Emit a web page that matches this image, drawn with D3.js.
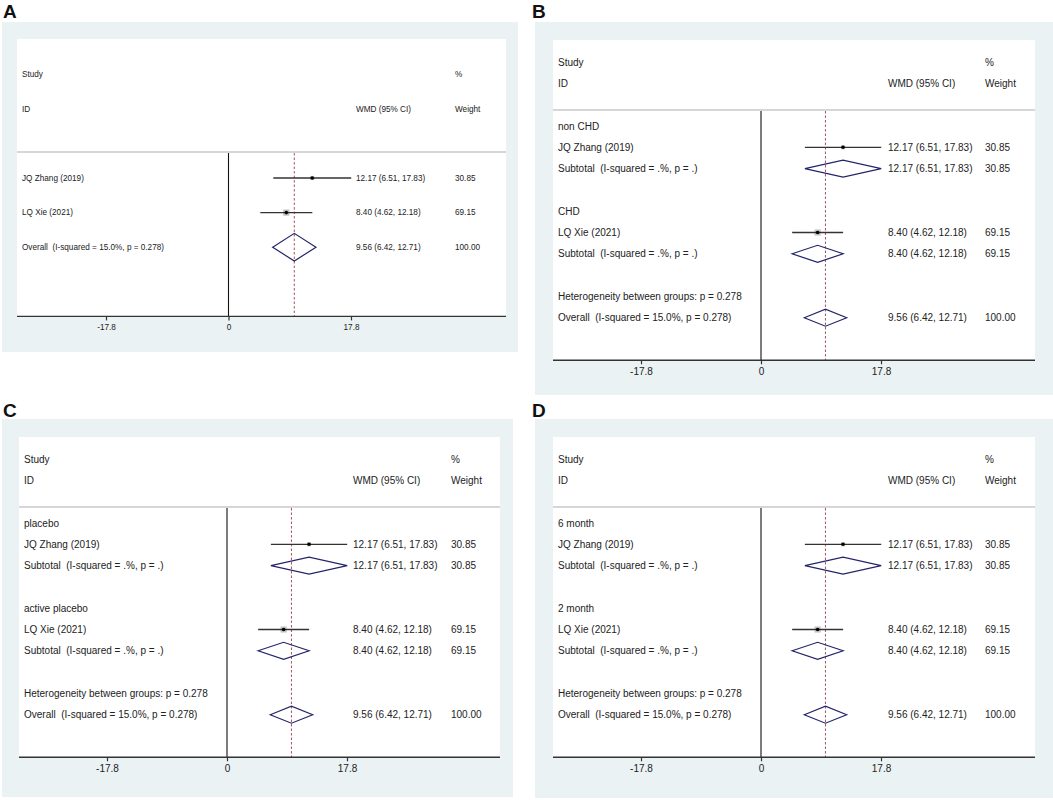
<!DOCTYPE html>
<html>
<head>
<meta charset="utf-8">
<script src="https://cdn.jsdelivr.net/npm/d3@7"></script>
<style>
  body { margin: 0; background: #fff; }
  svg { display: block; font-family: "Liberation Sans", Arial, sans-serif; }
  text { white-space: pre; }
</style>
</head>
<body>
<svg id="chart" width="1053" height="800"></svg>
<script>
// study level data
const studies = ["JQ Zhang (2019)", "LQ Xie (2021)"];
const wmd = [12.17, 8.40];
const ciLow = [6.51, 4.62];
const ciHigh = [17.83, 12.18];
const weights = [30.85, 69.15];

// pooled result
const overallWmd = 9.56;
const overallLow = 6.42;
const overallHigh = 12.71;
const overallI2 = "15.0%";
const overallP = "0.278";
const hetP = "0.278";

// subgroup names per panel
const groupsB = ["non CHD", "CHD"];
const groupsC = ["placebo", "active placebo"];
const groupsD = ["6 month", "2 month"];

const tickValues = [-17.8, 0, 17.8];

// panel layout
const panels = [
  { letter: "A", lx: 3, ly: 18, box: [2, 22, 518, 352], white: [17, 39, 506], row0: 178, step: 34.6,
    font: 8.2, labelX: 22, ticks: [106, 351], wmdX: 356, wtX: 455, groups: null },
  { letter: "B", lx: 532, ly: 18, box: [535, 22, 1053, 395], white: [553, 40, 1035], row0: 126, step: 21.3,
    font: 10, labelX: 558, ticks: [641, 881], wmdX: 888, wtX: 985, groups: groupsB },
  { letter: "C", lx: 3, ly: 417, box: [2, 419, 513, 797], white: [19, 437, 500], row0: 523, step: 21.3,
    font: 10, labelX: 24, ticks: [107, 347], wmdX: 353, wtX: 451, groups: groupsC },
  { letter: "D", lx: 532, ly: 417, box: [535, 419, 1053, 798], white: [553, 437, 1035], row0: 523, step: 21.3,
    font: 10, labelX: 558, ticks: [641, 881], wmdX: 888, wtX: 985, groups: groupsD }
];

const fmt = d3.format(".2f");
const ciText = (e, l, h) => `${fmt(e)} (${fmt(l)}, ${fmt(h)})`;

function buildRows(groups) {
  const rows = [];
  if (!groups) {
    studies.forEach((s, i) => rows.push({ idx: i, type: "study", i }));
    rows.push({ idx: 2, type: "overall" });
    return { rows, n: 3 };
  }
  groups.forEach((g, i) => {
    const base = i * 4;
    rows.push({ idx: base, type: "header", label: g });
    rows.push({ idx: base + 1, type: "study", i });
    rows.push({ idx: base + 2, type: "subtotal", i });
  });
  rows.push({ idx: 8, type: "het" });
  rows.push({ idx: 9, type: "overall" });
  return { rows, n: 10 };
}

const svg = d3.select("#chart");
const textColor = "#222";
const diamondColor = "#23246b";

panels.forEach(p => {
  const g = svg.append("g");
  const { rows, n } = buildRows(p.groups);

  const x = d3.scaleLinear().domain([tickValues[0], tickValues[2]]).range(p.ticks);
  const y = d3.scaleLinear().domain([0, 1]).range([p.row0, p.row0 + p.step]);
  const axisY = y(n + 1);
  const sepY = y(-0.75);
  const boxSide = d3.scaleSqrt().domain([0, 100]).range([0, p.step < 30 ? 7.4 : 7.6]);
  const dh = p.step * 0.4;

  // panel letter
  g.append("text").attr("x", p.lx).attr("y", p.ly)
    .attr("font-size", 19).attr("font-weight", "bold").attr("fill", "#111").text(p.letter);

  // backgrounds
  g.append("rect").attr("x", p.box[0]).attr("y", p.box[1])
    .attr("width", p.box[2] - p.box[0]).attr("height", p.box[3] - p.box[1]).attr("fill", "#eaf2f3");
  g.append("rect").attr("x", p.white[0]).attr("y", p.white[1])
    .attr("width", p.white[2] - p.white[0]).attr("height", axisY - p.white[1]).attr("fill", "#fff");

  // header separator
  g.append("line").attr("x1", p.white[0]).attr("x2", p.white[2]).attr("y1", sepY).attr("y2", sepY)
    .attr("stroke", "#d6d6d6").attr("stroke-width", 2);

  const txt = (tx, ty, s) => g.append("text").attr("x", tx).attr("y", ty).attr("dy", "0.35em")
    .attr("font-size", p.font).attr("fill", textColor).text(s);

  // column headers
  txt(p.labelX, y(-3), "Study");
  txt(p.labelX, y(-2), "ID");
  txt(p.wtX, y(-3), "%");
  txt(p.wmdX, y(-2), "WMD (95% CI)");
  txt(p.wtX, y(-2), "Weight");

  // null line and overall line
  g.append("line").attr("x1", x(0)).attr("x2", x(0)).attr("y1", sepY + 1).attr("y2", axisY)
    .attr("stroke", "#111").attr("stroke-width", 1.1);
  g.append("line").attr("x1", x(overallWmd)).attr("x2", x(overallWmd)).attr("y1", sepY + 1).attr("y2", axisY)
    .attr("stroke", "#a3525e").attr("stroke-width", 1).attr("stroke-dasharray", "2.5,2");

  const diamond = (ry, e, l, h) => g.append("path")
    .attr("d", `M${x(l)},${ry}L${x(e)},${ry - dh}L${x(h)},${ry}L${x(e)},${ry + dh}Z`)
    .attr("fill", "none").attr("stroke", diamondColor).attr("stroke-width", 1.2);

  rows.forEach(r => {
    const ry = y(r.idx);
    if (r.type === "header") {
      txt(p.labelX, ry, r.label);
    } else if (r.type === "study") {
      const i = r.i;
      const s = boxSide(weights[i]);
      g.append("rect").attr("x", x(wmd[i]) - s / 2).attr("y", ry - s / 2)
        .attr("width", s).attr("height", s).attr("fill", "#c4c4c4");
      g.append("line").attr("x1", x(ciLow[i])).attr("x2", x(ciHigh[i])).attr("y1", ry).attr("y2", ry)
        .attr("stroke", "#333").attr("stroke-width", 1.3);
      g.append("circle").attr("cx", x(wmd[i])).attr("cy", ry).attr("r", 1.8).attr("fill", "#000");
      txt(p.labelX, ry, studies[i]);
      txt(p.wmdX, ry, ciText(wmd[i], ciLow[i], ciHigh[i]));
      txt(p.wtX, ry, fmt(weights[i]));
    } else if (r.type === "subtotal") {
      const i = r.i;
      diamond(ry, wmd[i], ciLow[i], ciHigh[i]);
      txt(p.labelX, ry, "Subtotal  (I-squared = .%, p = .)");
      txt(p.wmdX, ry, ciText(wmd[i], ciLow[i], ciHigh[i]));
      txt(p.wtX, ry, fmt(weights[i]));
    } else if (r.type === "het") {
      txt(p.labelX, ry, `Heterogeneity between groups: p = ${hetP}`);
    } else if (r.type === "overall") {
      diamond(ry, overallWmd, overallLow, overallHigh);
      txt(p.labelX, ry, `Overall  (I-squared = ${overallI2}, p = ${overallP})`);
      txt(p.wmdX, ry, ciText(overallWmd, overallLow, overallHigh));
      txt(p.wtX, ry, "100.00");
    }
  });

  // x axis
  const axis = g.append("g").attr("transform", `translate(0,${axisY})`)
    .call(d3.axisBottom(x).tickValues(tickValues).tickSize(4).tickPadding(4)
      .tickFormat(d => d === 0 ? "0" : d.toFixed(1)));
  axis.select(".domain").remove();
  axis.selectAll(".tick line").attr("stroke", "#333").attr("stroke-width", 1.2);
  axis.selectAll(".tick text").attr("font-size", p.font).attr("fill", textColor)
    .attr("font-family", "Liberation Sans, Arial, sans-serif");
  g.append("line").attr("x1", p.white[0]).attr("x2", p.white[2]).attr("y1", axisY).attr("y2", axisY)
    .attr("stroke", "#333").attr("stroke-width", 1.4);
});
</script>
</body>
</html>
